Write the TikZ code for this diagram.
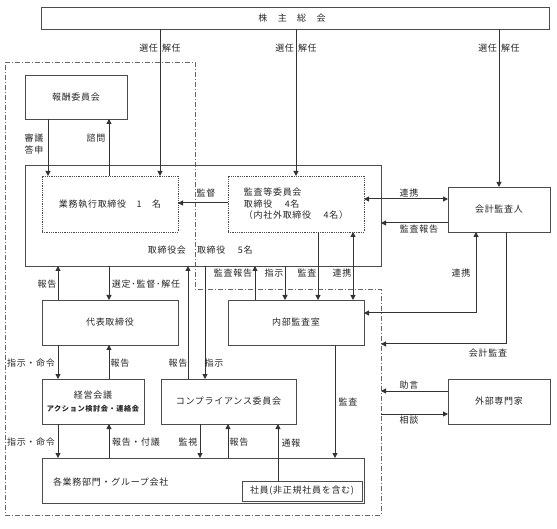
\documentclass[tikz,border=0pt]{standalone}
\usepackage{fontspec}
\setmainfont[LetterSpace=8]{Noto Sans CJK JP}
\usetikzlibrary{arrows.meta}
\newcommand\lblfont{\fontsize{9}{11.5}\selectfont}
\newcommand\smallbold{\fontsize{7.2}{9}\selectfont\bfseries}
\begin{document}
\begin{tikzpicture}[
  x=1pt, y=-1pt,
  every node/.style={text=black!85},
  box/.style={draw=black!70, line width=0.8pt, inner sep=0pt, outer sep=0pt, align=center, font=\lblfont},
  dbox/.style={box, densely dotted},
  arr/.style={draw=black!80, line width=1pt, -{Triangle[length=5pt,width=5pt]}},
  darr/.style={draw=black!80, line width=1pt, {Triangle[length=5pt,width=5pt]}-{Triangle[length=5pt,width=5pt]}},
  lbl/.style={inner sep=0pt, outer sep=0pt, font=\lblfont, align=center},
  region/.style={draw=black!60, line width=0.8pt, dash pattern=on 5pt off 2pt on 1pt off 2pt}
]
\useasboundingbox (0,0) rectangle (557,529);

% dash-dot region
\draw[region] (5,62) -- (195,62) -- (195,289) -- (381,289) -- (381,515) -- (5,515) -- cycle;

% boxes
\node[box, minimum width=508pt, minimum height=22pt] (gm) at (295,18) {};
\node[lbl] (gmText) at (292,18) {株　主　総　会};
\node[box, minimum width=102pt, minimum height=44pt] (hoshu) at (76,97) {報酬委員会};
\node[box, minimum width=356pt, minimum height=101pt] (board) at (203,215.5) {};
\node[dbox, minimum width=136pt, minimum height=56pt] (exec) at (110,204) {業務執行取締役　1　名};
\node[dbox, minimum width=136pt, minimum height=56pt, align=left] (audit) at (296,204) {監査等委員会\\取締役　 4名\\（内社外取締役　 4名）};
\node[box, minimum width=102pt, minimum height=45pt] (kaikei) at (499,209.5) {会計監査人};
\node[box, minimum width=136pt, minimum height=45pt] (daihyo) at (110,322.5) {代表取締役};
\node[box, minimum width=136pt, minimum height=45pt] (naibu) at (296,322.5) {内部監査室};
\node[box, minimum width=102pt, minimum height=45pt] (keiei) at (93,401.5) {経営会議\\[1pt]{\smallbold アクション検討会・連絡会}};
\node[box, minimum width=135pt, minimum height=45pt] (comp) at (228.5,401.5) {コンプライアンス委員会};
\node[box, minimum width=102pt, minimum height=45pt] (gaibu) at (499,401.5) {外部専門家};
\node[box, minimum width=322pt, minimum height=45pt] (kaku) at (203,480.5) {};
\node[lbl, anchor=west] (kakuText) at (53,482) {各業務部門・グループ会社};
\node[box, minimum width=120pt, minimum height=20pt] (shain) at (302,491) {社員(非正規社員を含む)};

\node[lbl, anchor=east] (tkLbl) at (186,250) {取締役会};
\node[lbl, anchor=west] (tk5Lbl) at (197,250) {取締役　 5名};

% free ends on the region border
\coordinate (kaEnd) at (381,344);
\coordinate (jogenEnd) at (381,391);
\coordinate (sodanStart) at (381,414);

% shareholders
\draw[arr] ([xshift=-135pt]gm.south) -- ([xshift=50pt]exec.north);
\draw[arr] ([xshift=1pt]gm.south) -- (audit.north);
\draw[arr] ([xshift=204pt]gm.south) -- (kaikei.north);
\node[lbl, anchor=east] (s1a) at (158,48) {選任};
\node[lbl, anchor=west] (s1b) at (162,48) {解任};
\node[lbl, anchor=east] (s2a) at (294,48) {選任};
\node[lbl, anchor=west] (s2b) at (298,48) {解任};
\node[lbl, anchor=east] (s3a) at (497,48) {選任};
\node[lbl, anchor=west] (s3b) at (501,48) {解任};

% remuneration committee
\draw[arr] ([xshift=-28pt]hoshu.south) -- ([xshift=-62pt]exec.north);
\draw[arr] ([xshift=-1pt]exec.north) -- ([xshift=33pt]hoshu.south);
\node[lbl] (lShingi) at (34,144) {審議\\答申};
\node[lbl] (lShimon) at (96,138) {諮問};

% board internal
\draw[arr] ([yshift=1pt]audit.west) -- ([yshift=1pt]exec.east);
\node[lbl] (lKantoku) at (206,193) {監督};

% auditor links
\draw[darr] ([yshift=5pt]audit.east) -- ([yshift=10.5pt]kaikei.west);
\node[lbl] (lRenkei1) at (409,193) {連携};
\draw[arr] ([yshift=-13.5pt]kaikei.west) -- ([yshift=-7.5pt]board.east);
\node[lbl] (lKansaHokoku1) at (419,229) {監査報告};

% board <-> representative director
\draw[arr] ([xshift=-52pt]daihyo.north) -- ([xshift=-145pt]board.south);
\draw[arr] ([xshift=-94pt]board.south) -- ([xshift=-1pt]daihyo.north);
\node[lbl] (lHokoku1) at (47,284) {報告};
\node[lbl] (lSentei) at (146,284) {選定･監督･解任};

% board <-> compliance
\draw[arr] ([xshift=-40.5pt]comp.north) -- ([xshift=-15pt]board.south);
\draw[arr] ([xshift=2pt]board.south) -- ([xshift=-23.5pt]comp.north);
\node[lbl] (lHokoku2) at (178,363) {報告};
\node[lbl] (lShiji2) at (214,363) {指示};

% board/audit committee <-> internal audit
\draw[arr] ([xshift=-41pt]naibu.north) -- ([xshift=52pt]board.south);
\draw[arr] ([xshift=82pt]board.south) -- ([xshift=-11pt]naibu.north);
\draw[arr] ([xshift=22pt]audit.south) -- ([xshift=22pt]naibu.north);
\draw[darr] ([xshift=57pt]audit.south) -- ([xshift=57pt]naibu.north);
\node[lbl] (lKansaHokoku2) at (233,273) {監査報告};
\node[lbl] (lShiji3) at (274,273) {指示};
\node[lbl] (lKansa1) at (307,273) {監査};
\node[lbl] (lRenkei2) at (342,273) {連携};

% accounting auditor <-> internal audit
\draw[darr] ([xshift=-23pt]kaikei.south) |- ([yshift=9.5pt]naibu.east);
\node[lbl] (lRenkei3) at (461,273) {連携};
\draw[arr] ([xshift=7pt]kaikei.south) |- (kaEnd);
\node[lbl] (lKaikeiKansa) at (488,353) {会計監査};

% external experts
\draw[arr] ([yshift=10.5pt]gaibu.west) -- (jogenEnd);
\node[lbl] (lJogen) at (409,385) {助言};
\draw[arr] (sodanStart) -- ([yshift=-12.5pt]gaibu.west);
\node[lbl] (lSodan) at (409,420) {相談};

% representative director <-> management meeting
\draw[arr] ([xshift=-52pt]daihyo.south) -- ([xshift=-35pt]keiei.north);
\draw[arr] ([xshift=16pt]keiei.north) -- ([xshift=-1pt]daihyo.south);
\node[lbl] (lShijiMeirei1) at (31,363) {指示・命令};
\node[lbl] (lHokoku3) at (120,363) {報告};

% management meeting <-> divisions
\draw[arr] ([xshift=-35pt]keiei.south) -- ([xshift=-145pt]kaku.north);
\draw[arr] ([xshift=-94pt]kaku.north) -- ([xshift=16pt]keiei.south);
\node[lbl] (lShijiMeirei2) at (31,442) {指示・命令};
\node[lbl] (lHokokuFugi) at (136,442) {報告・付議};

% compliance <-> divisions
\draw[arr] ([xshift=-28.5pt]comp.south) -- ([xshift=-3pt]kaku.north);
\draw[arr] ([xshift=25pt]kaku.north) -- ([xshift=-0.5pt]comp.south);
\draw[arr] ([xshift=-24pt]shain.north) -- ([xshift=49.5pt]comp.south);
\node[lbl] (lKanshi) at (188,442) {監視};
\node[lbl] (lHokoku4) at (239,442) {報告};
\node[lbl] (lTsuho) at (291,443) {通報};

% internal audit -> divisions
\draw[arr] ([xshift=39pt]naibu.south) -- ([xshift=132pt]kaku.north);
\node[lbl] (lKansa2) at (348,402) {監査};
\end{tikzpicture}
\end{document}
